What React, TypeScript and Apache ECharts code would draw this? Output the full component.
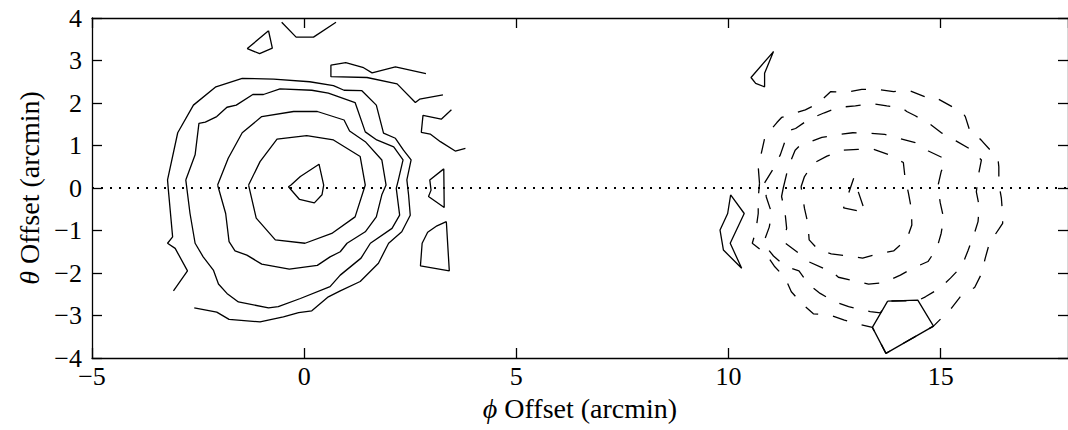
import React, { useEffect, useRef } from "react";
import * as echarts from "echarts";

// ---- axis ticks ----
const xTicks = { min: -5, max: 18, interval: 5 };
const yTicks = { min: -4, max: 4, interval: 1 };

// ---- left source (solid contours) ----
const leftOuterOpen: number[][] = [
  [-3.08, -2.42], [-2.75, -1.95], [-3.04, -1.42], [-3.22, -1.3], [-3.1, -1.15], [-3.2, -0.05],
  [-3.22, 0.19], [-2.98, 1.3], [-2.61, 1.95], [-2.08, 2.38], [-1.46, 2.58], [-0.72, 2.56],
  [0.13, 2.5], [0.69, 2.41], [0.94, 2.3], [1.36, 2.29], [1.7, 1.95], [1.87, 1.29], [2.15, 1.17],
  [2.34, 0.89], [2.52, 0.66], [2.42, 0.19], [2.46, -0.16], [2.5, -0.64], [2.3, -1.03],
  [1.99, -1.3], [1.75, -1.77], [1.32, -2.2], [0.85, -2.42], [0.57, -2.56], [0.18, -2.89],
  [-0.13, -2.93], [-0.49, -3.03], [-1.04, -3.15], [-1.77, -3.09], [-2.06, -2.92], [-2.59, -2.82],
];
const leftRing2: number[][] = [
  [-2.79, 0.19], [-2.57, 0.78], [-2.48, 1.52], [-2.33, 1.55], [-2.06, 1.68], [-1.82, 1.9],
  [-1.6, 1.95], [-1.21, 2.2], [-0.96, 2.2], [-0.57, 2.33], [0.18, 2.3], [0.57, 2.23], [1.2, 2.01],
  [1.44, 1.32], [1.71, 1.13], [2.11, 0.97], [2.33, 0.66], [2.22, 0.19], [2.17, -0.01],
  [2.25, -0.64], [2.07, -0.95], [1.56, -1.3], [1.34, -1.65], [0.85, -2.05], [0.61, -2.32],
  [-0.09, -2.6], [-0.61, -2.79], [-0.84, -2.82], [-1.55, -2.68], [-1.82, -2.48], [-2.02, -2.26],
  [-2.14, -1.93], [-2.38, -1.62], [-2.57, -1.3], [-2.69, -0.6],
];
const leftRing3: number[][] = [
  [-2.04, 0.07], [-1.79, 0.7], [-1.46, 1.3], [-1.0, 1.68], [-0.25, 1.8], [0.31, 1.8], [0.94, 1.6],
  [1.07, 1.34], [1.44, 1.09], [1.83, 0.66], [1.93, 0.07], [1.83, -0.16], [1.7, -0.68],
  [1.44, -1.03], [1.01, -1.3], [0.85, -1.5], [0.61, -1.62], [0.31, -1.82], [-0.35, -1.91],
  [-1.0, -1.79], [-1.35, -1.58], [-1.63, -1.48], [-1.77, -1.26], [-1.85, -0.6],
];
const leftRing4: number[][] = [
  [-1.31, 0.07], [-1.04, 0.62], [-0.64, 1.15], [0.06, 1.23], [0.69, 1.13], [1.32, 0.74],
  [1.44, 0.07], [1.2, -0.68], [0.65, -1.07], [0.02, -1.3], [-0.68, -1.22], [-1.13, -0.71],
];
const leftPeak: number[][] = [
  [-0.31, 0.07], [-0.09, 0.27], [0.35, 0.56], [0.46, 0.07], [0.42, -0.16], [0.24, -0.35],
  [-0.11, -0.27], [-0.37, 0.03],
];
const leftTopV: number[][] = [[-0.53, 3.9], [-0.19, 3.55], [0.22, 3.55], [0.75, 3.9]];
const leftTopIsland: number[][] = [[-0.84, 3.7], [-0.75, 3.29], [-1.05, 3.16], [-1.34, 3.28]];
const leftNorthEastOpen: number[][] = [
  [2.87, 2.69], [2.15, 2.85], [1.6, 2.71], [1.4, 2.83], [0.98, 2.95], [0.63, 2.89], [0.63, 2.62],
  [1.48, 2.6], [2.19, 2.45], [2.62, 2.01], [2.72, 2.09], [3.27, 2.19],
];
const leftEastOpen: number[][] = [
  [3.47, 1.84], [3.23, 1.62], [2.8, 1.71], [2.76, 1.31], [2.97, 1.27], [3.21, 1.09], [3.56, 0.87],
  [3.8, 0.93],
];
const leftEastIsland: number[][] = [[3.29, 0.45], [3.3, -0.46], [2.93, -0.2], [2.99, -0.05], [2.96, 0.19]];
const leftSouthEastIsland: number[][] = [
  [3.35, -0.79], [3.13, -0.89], [2.91, -1.04], [2.78, -1.3], [2.74, -1.83], [3.42, -1.95],
];

// ---- right source (dashed contours) ----
const rightRing1: number[][] = [
  [11.71, 0.03], [11.79, 0.27], [12.0, 0.58], [12.32, 0.75], [12.69, 0.89], [13.05, 0.91],
  [13.42, 0.91], [13.79, 0.78], [14.12, 0.6], [14.16, 0.24], [14.24, -0.12], [14.31, -0.5],
  [14.32, -0.87], [14.2, -1.21], [13.89, -1.48], [13.53, -1.55], [13.16, -1.65], [12.81, -1.6],
  [12.42, -1.55], [12.12, -1.46], [11.9, -1.22], [11.87, -0.83], [11.79, -0.48],
];
const rightRing2: number[][] = [
  [11.29, 0.0], [11.41, 0.5], [11.57, 0.89], [11.69, 1.01], [11.82, 1.05], [12.2, 1.19],
  [12.53, 1.25], [12.93, 1.3], [13.3, 1.29], [13.68, 1.26], [14.02, 1.17], [14.4, 1.07],
  [14.71, 0.87], [15.07, 0.7], [15.11, 0.64], [15.01, 0.38], [14.93, 0.03], [14.99, -0.35],
  [15.07, -0.71], [15.01, -1.07], [14.91, -1.42], [14.7, -1.73], [14.34, -1.89], [14.05, -2.05],
  [13.65, -2.23], [13.3, -2.26], [12.95, -2.18], [12.59, -2.1], [12.4, -1.93], [12.24, -1.89],
  [11.88, -1.73], [11.61, -1.5], [11.29, -1.26], [11.37, -0.95], [11.33, -0.56], [11.25, -0.2],
];
const rightRing3: number[][] = [
  [10.85, 0.12], [11.06, 0.46], [11.22, 0.78], [11.4, 1.3], [11.45, 1.36], [11.58, 1.4],
  [11.9, 1.62], [12.26, 1.77], [12.61, 1.9], [12.99, 1.93], [13.36, 1.99], [13.73, 1.93],
  [14.1, 1.88], [14.2, 1.8], [14.4, 1.7], [14.75, 1.5], [15.03, 1.29], [15.36, 1.11],
  [15.67, 0.93], [15.96, 0.66], [15.89, 0.31], [15.84, -0.09], [15.91, -0.44], [15.88, -0.79],
  [15.78, -1.11], [15.64, -1.48], [15.5, -1.84], [15.23, -2.12], [14.99, -2.35], [14.64, -2.56],
  [14.46, -2.65], [13.75, -2.66], [13.58, -2.94], [13.34, -2.91], [12.99, -2.83], [12.83, -2.79],
  [12.51, -2.68], [12.16, -2.48], [11.9, -2.28], [11.66, -1.95], [11.33, -1.84], [11.06, -1.6],
  [10.82, -1.3], [10.96, -0.92], [11.02, -0.6], [10.89, -0.21],
];
const rightRing4: number[][] = [
  [10.73, 0.11], [10.7, 0.5], [10.78, 0.85], [10.86, 1.21], [11.14, 1.54], [11.25, 1.66],
  [11.41, 1.71], [11.81, 1.84], [12.1, 1.98], [12.41, 2.27], [12.75, 2.25], [13.14, 2.32],
  [13.52, 2.32], [13.89, 2.27], [14.26, 2.29], [14.62, 2.15], [14.79, 2.07], [14.95, 2.09],
  [15.33, 1.88], [15.5, 1.8], [15.58, 1.68], [15.7, 1.3], [15.89, 1.19], [15.97, 1.11],
  [16.25, 0.8], [16.35, 0.68], [16.37, 0.5], [16.37, 0.11], [16.43, -0.24], [16.46, -0.64],
  [16.46, -0.83], [16.37, -0.97], [16.15, -1.29], [16.05, -1.65], [15.96, -2.02], [15.8, -2.34],
  [15.46, -2.56], [15.25, -2.83], [14.83, -3.25], [13.71, -3.89], [13.39, -3.28], [13.13, -3.22],
  [12.73, -3.11], [12.4, -2.99], [12.0, -2.96], [11.74, -2.73], [11.48, -2.44], [11.33, -2.11],
  [11.08, -1.84], [10.88, -1.55], [10.56, -1.3], [10.64, -1.03], [10.7, -0.6], [10.7, -0.24],
];
const rightCore: number[][] = [[12.95, 0.23], [12.71, -0.47], [13.22, -0.57]];
const rightPentagon: number[][] = [[13.75, -2.66], [14.46, -2.64], [14.83, -3.25], [13.71, -3.89], [13.39, -3.28]];
const rightWestIsland: number[][] = [
  [10.05, -0.16], [10.37, -0.6], [10.04, -1.3], [10.31, -1.89], [9.88, -1.46], [9.8, -0.99], [9.98, -0.6],
];
const rightNorthIsland: number[][] = [[11.06, 3.21], [10.85, 2.7], [10.85, 2.38], [10.64, 2.46], [10.53, 2.6]];

const zeroLine: number[][] = [[-5, 0], [18, 0]];

const FONT = "Liberation Serif";

const close = (d: number[][]) => d.concat([d[0]]);
const solid = (data: number[][]) => ({
  type: "line",
  data,
  showSymbol: false,
  symbol: "none",
  silent: true,
  z: 3,
  lineStyle: { color: "#000", width: 1.3 },
});
const dashed = (data: number[][]) => ({
  type: "line",
  data,
  showSymbol: false,
  symbol: "none",
  silent: true,
  z: 3,
  lineStyle: { color: "#000", width: 1.3, type: [15, 15] },
});

const fmt = (v: number) => (v < 0 ? "\u2212" + Math.abs(v) : String(v));

export default function App() {
  const ref = useRef<HTMLDivElement>(null);
  useEffect(() => {
    if (!ref.current) return;
    const chart = echarts.init(ref.current, undefined, { renderer: "svg" });
    const axisLine = { show: true, onZero: false, lineStyle: { color: "#000", width: 1.3 } };
    const axisTick = { show: true, inside: true, length: 10, lineStyle: { color: "#000", width: 1.3 } };
    const labelStyle = { color: "#000", fontFamily: FONT, fontSize: 26 };
    const nameStyle = {
      color: "#000",
      fontFamily: FONT,
      fontSize: 28,
      rich: { i: { fontStyle: "italic", fontFamily: FONT, fontSize: 28, color: "#000" } },
    };
    chart.setOption({
      animation: false,
      backgroundColor: "#fff",
      grid: { left: 92, top: 18, width: 978, height: 340, containLabel: false },
      xAxis: [
        {
          type: "value", ...xTicks, position: "bottom",
          axisLine, axisTick, splitLine: { show: false },
          axisLabel: { ...labelStyle, margin: 5, showMaxLabel: false, formatter: fmt },
          name: "{i|\u03d5} Offset (arcmin)", nameLocation: "middle", nameGap: 36, nameTextStyle: nameStyle,
        },
        {
          type: "value", ...xTicks, position: "top",
          axisLine, axisTick, splitLine: { show: false }, axisLabel: { show: false },
        },
      ],
      yAxis: [
        {
          type: "value", ...yTicks, position: "left",
          axisLine, axisTick, splitLine: { show: false },
          axisLabel: { ...labelStyle, margin: 10, formatter: fmt },
          name: "{i|\u03b8} Offset (arcmin)", nameLocation: "middle", nameGap: 43, nameRotate: 90,
          nameTextStyle: nameStyle,
        },
        {
          type: "value", ...yTicks, position: "right",
          axisLine, axisTick, splitLine: { show: false }, axisLabel: { show: false },
        },
      ],
      series: [
        {
          type: "line", data: zeroLine, showSymbol: false, symbol: "none", silent: true, z: 2,
          lineStyle: { color: "#000", width: 2, type: [2, 7] },
        },
        solid(leftOuterOpen),
        solid(close(leftRing2)),
        solid(close(leftRing3)),
        solid(close(leftRing4)),
        solid(close(leftPeak)),
        solid(leftTopV),
        solid(close(leftTopIsland)),
        solid(leftNorthEastOpen),
        solid(leftEastOpen),
        solid(close(leftEastIsland)),
        solid(close(leftSouthEastIsland)),
        dashed(close(rightRing1)),
        dashed(close(rightRing2)),
        dashed(close(rightRing3)),
        dashed(close(rightRing4)),
        dashed(close(rightCore)),
        solid(close(rightPentagon)),
        solid(close(rightWestIsland)),
        solid(close(rightNorthIsland)),
      ],
    });
    return () => chart.dispose();
  }, []);
  return (
    <div
      ref={ref}
      style={{ position: "fixed", left: 0, top: 0, width: 1068, height: 430, background: "#fff" }}
    />
  );
}
